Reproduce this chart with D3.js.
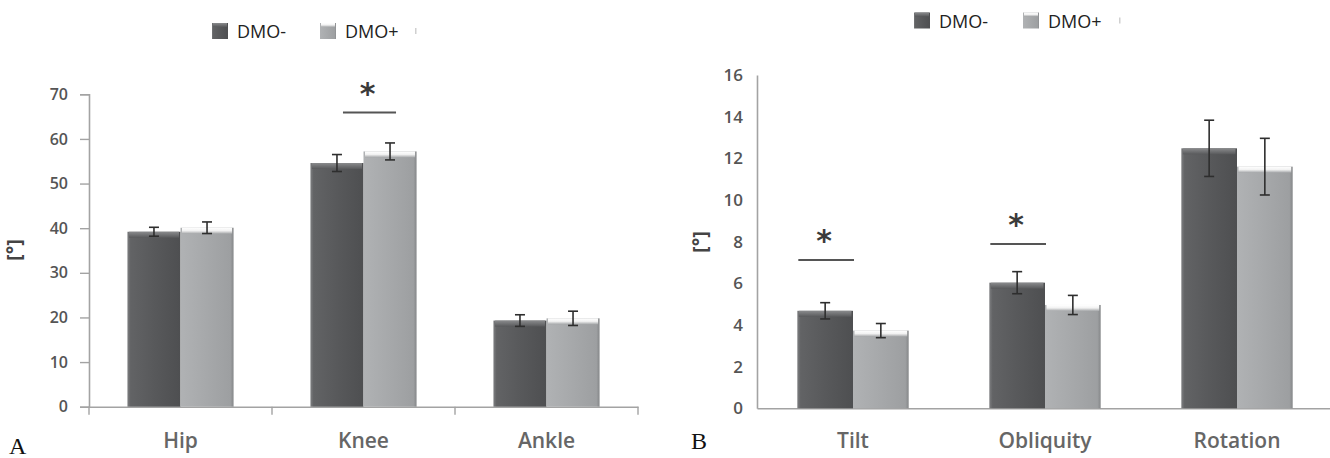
<!DOCTYPE html>
<html>
<head>
<meta charset="utf-8">
<script src="https://cdnjs.cloudflare.com/ajax/libs/d3/7.8.5/d3.min.js"></script>
<style>
  body { margin: 0; background: #fff; }
  svg { display: block; }
</style>
</head>
<body>
<script>
// series names
var groups = ["DMO-", "DMO+"]

// panel A: joint angles
var jointCats = ["Hip", "Knee", "Ankle"]
var jointMinus = [39.2, 54.6, 19.3]
var jointPlus = [40.1, 57.2, 19.8]
var jointMinusErr = [1.0, 1.9, 1.3]
var jointPlusErr = [1.3, 1.9, 1.6]
var jointTicks = [0, 10, 20, 30, 40, 50, 60, 70]
var jointSigCats = ["Knee"]
var jointSigLevels = [65.9]
var jointSigOver = ["pair"]

// panel B: pelvis angles
var pelvisCats = ["Tilt", "Obliquity", "Rotation"]
var pelvisMinus = [4.68, 6.03, 12.48]
var pelvisPlus = [3.73, 4.96, 11.6]
var pelvisMinusErr = [0.39, 0.53, 1.35]
var pelvisPlusErr = [0.34, 0.46, 1.36]
var pelvisTicks = [0, 2, 4, 6, 8, 10, 12, 14, 16]
var pelvisSigCats = ["Tilt", "Obliquity"]
var pelvisSigLevels = [7.12, 7.89]
var pelvisSigOver = ["DMO-", "DMO-"]

var w = 1330
var h = 458
var font = "'Open Sans', sans-serif"

var svg = d3.select("body")
    .append("svg")
    .attr("width", w)
    .attr("height", h)

// gradients for the bevelled bars
var defs = svg.append("defs")
function grad(id, stops, vertical) {
    var g = defs.append("linearGradient")
        .attr("id", id)
        .attr("x1", 0).attr("y1", 0)
        .attr("x2", vertical ? 0 : 1).attr("y2", vertical ? 1 : 0)
    stops.forEach(function(s) {
        g.append("stop").attr("offset", s[0]).attr("stop-color", s[1])
    })
}
grad("gMinus", [[0, "#7d7e80"], [0.06, "#626365"], [0.5, "#58595b"], [1, "#4e4f51"]])
grad("gPlus", [[0, "#b0b2b4"], [0.5, "#a6a8aa"], [0.94, "#9d9fa1"], [1, "#858789"]])
grad("gMinusTop", [[0, "#8a8b8d"], [1, "#58595b"]], true)
grad("gPlusTop", [[0, "#ffffff"], [0.5, "#f2f2f2"], [1, "#a6a8aa"]], true)

var barFill = { "DMO-": "url(#gMinus)", "DMO+": "url(#gPlus)" }
var topFill = { "DMO-": "url(#gMinusTop)", "DMO+": "url(#gPlusTop)" }

function drawPanel(p) {
    var g = svg.append("g")

    var yScale = d3.scaleLinear()
        .domain([0, p.ticks[p.ticks.length - 1]])
        .range([p.bottom, p.top])

    var xScale = d3.scaleBand()
        .domain(p.cats)
        .range([p.left, p.left + p.step * p.cats.length])
        .paddingInner(0.42)
        .paddingOuter(0.21)

    var xSub = d3.scaleBand()
        .domain(groups)
        .range([0, xScale.bandwidth()])

    var rows = p.cats.map(function(c, i) {
        return [
            { cat: c, key: "DMO-", v: p.minus[i], e: p.minusErr[i] },
            { cat: c, key: "DMO+", v: p.plus[i], e: p.plusErr[i] }
        ]
    })

    // axes
    var yAxis = d3.axisLeft(yScale)
        .tickValues(p.ticks)
        .tickSize(p.yTickSize)
        .tickPadding(p.yTickSize ? 12 : 14)
    var ga = g.append("g")
        .attr("transform", "translate(" + p.left + ",0)")
        .call(yAxis)
    ga.select(".domain").attr("stroke", "#a3a3a3").attr("stroke-width", 1.6)
    ga.selectAll(".tick line").attr("stroke", "#a3a3a3").attr("stroke-width", 1.4)
    ga.selectAll(".tick text")
        .attr("font-family", font)
        .attr("font-size", p.tickFont)
        .attr("font-weight", 600)
        .attr("fill", "#555")

    var xAxis = d3.axisBottom(xScale).tickFormat("").tickSize(0)
    var gx = g.append("g")
        .attr("transform", "translate(0," + p.bottom + ")")
        .call(xAxis)
    gx.select(".domain").attr("stroke", "#a3a3a3").attr("stroke-width", 1.6)
    gx.selectAll(".tick").remove()

    // boundary ticks on x axis
    if (p.xTicks) {
        var bounds = p.cats.map(function(c, i) { return p.left + p.step * i })
        bounds.push(p.left + p.step * p.cats.length)
        g.selectAll(".xb")
            .data(bounds)
            .enter()
            .append("line")
            .attr("x1", function(d) { return d }).attr("x2", function(d) { return d })
            .attr("y1", p.bottom).attr("y2", p.bottom + 8)
            .attr("stroke", "#a3a3a3").attr("stroke-width", 1.4)
    }

    // category labels
    g.selectAll(".cat")
        .data(p.cats)
        .enter()
        .append("text")
        .attr("x", function(d) { return xScale(d) + xScale.bandwidth() / 2 })
        .attr("y", 448)
        .attr("text-anchor", "middle")
        .attr("font-family", font)
        .attr("font-size", 21)
        .attr("font-weight", 600)
        .attr("fill", "#666")
        .text(function(d) { return d })

    // bars
    var cg = g.selectAll(".catg")
        .data(rows)
        .enter()
        .append("g")
        .attr("transform", function(d) { return "translate(" + xScale(d[0].cat) + ",0)" })

    var bars = cg.selectAll(".bar")
        .data(function(d) { return d })
        .enter()
        .append("g")

    bars.append("rect")
        .attr("x", function(d) { return xSub(d.key) })
        .attr("y", function(d) { return yScale(d.v) })
        .attr("width", xSub.bandwidth())
        .attr("height", function(d) { return p.bottom - yScale(d.v) })
        .attr("fill", function(d) { return barFill[d.key] })

    bars.append("rect")
        .attr("x", function(d) { return xSub(d.key) + 1.5 })
        .attr("y", function(d) { return yScale(d.v) })
        .attr("width", xSub.bandwidth() - 3)
        .attr("height", 6)
        .attr("fill", function(d) { return topFill[d.key] })

    // error bars
    var cap = 5
    var eb = bars.append("g")
        .attr("stroke", "#2e2e2e")
        .attr("stroke-width", 1.6)
    eb.append("line")
        .attr("x1", function(d) { return xSub(d.key) + xSub.bandwidth() / 2 })
        .attr("x2", function(d) { return xSub(d.key) + xSub.bandwidth() / 2 })
        .attr("y1", function(d) { return yScale(d.v + d.e) })
        .attr("y2", function(d) { return yScale(d.v - d.e) })
    eb.append("line")
        .attr("x1", function(d) { return xSub(d.key) + xSub.bandwidth() / 2 - cap })
        .attr("x2", function(d) { return xSub(d.key) + xSub.bandwidth() / 2 + cap })
        .attr("y1", function(d) { return yScale(d.v + d.e) })
        .attr("y2", function(d) { return yScale(d.v + d.e) })
    eb.append("line")
        .attr("x1", function(d) { return xSub(d.key) + xSub.bandwidth() / 2 - cap })
        .attr("x2", function(d) { return xSub(d.key) + xSub.bandwidth() / 2 + cap })
        .attr("y1", function(d) { return yScale(d.v - d.e) })
        .attr("y2", function(d) { return yScale(d.v - d.e) })

    // significance marks
    p.sigCats.forEach(function(c, i) {
        var cx, half = xSub.bandwidth() / 2
        if (p.sigOver[i] == "pair") cx = xScale(c) + xScale.bandwidth() / 2 + 6
        else cx = xScale(c) + xSub(p.sigOver[i]) + half + 1
        var ly = yScale(p.sigLevels[i])
        g.append("line")
            .attr("x1", cx - half).attr("x2", cx + half)
            .attr("y1", ly).attr("y2", ly)
            .attr("stroke", "#555").attr("stroke-width", 2)
        g.append("text")
            .attr("x", cx - 2)
            .attr("y", ly - 9)
            .attr("text-anchor", "middle")
            .attr("font-family", "'DejaVu Sans', sans-serif")
            .attr("font-size", 30)
            .attr("font-weight", "bold")
            .attr("fill", "#3a3a3a")
            .text("*")
    })

    // y label
    g.append("text")
        .attr("transform", "translate(" + p.yLabelX + "," + p.yLabelY + ") rotate(-90)")
        .attr("text-anchor", "middle")
        .attr("font-family", font)
        .attr("font-size", 20)
        .attr("font-weight", "bold")
        .attr("fill", "#444")
        .text("[°]")

    // legend
    var lg = g.append("g")
    groups.forEach(function(k, i) {
        var lx = p.legendX + i * p.legendGap
        lg.append("rect")
            .attr("x", lx).attr("y", p.legendY)
            .attr("width", 16).attr("height", 16)
            .attr("fill", barFill[k])
        lg.append("rect")
            .attr("x", lx + 1).attr("y", p.legendY)
            .attr("width", 14).attr("height", 4)
            .attr("fill", topFill[k])
        lg.append("text")
            .attr("x", lx + 25).attr("y", p.legendY + 15)
            .attr("font-family", font)
            .attr("font-size", 18)
            .attr("fill", "#222")
            .text(k)
    })
    lg.append("rect")
        .attr("x", p.legendX + p.legendGap * 2 - 13).attr("y", p.legendY + 5)
        .attr("width", 1.5).attr("height", 6)
        .attr("fill", "#d0d0d0")

    // panel letter
    g.append("text")
        .attr("x", p.letterX).attr("y", p.letterY)
        .attr("font-family", "'Liberation Serif', serif")
        .attr("font-size", 24)
        .attr("fill", "#111")
        .text(p.letter)
}

drawPanel({
    cats: jointCats, minus: jointMinus, plus: jointPlus,
    minusErr: jointMinusErr, plusErr: jointPlusErr, ticks: jointTicks,
    sigCats: jointSigCats, sigLevels: jointSigLevels, sigOver: jointSigOver,
    left: 89, step: 183, top: 94.3, bottom: 406.7,
    yTickSize: 9, xTicks: true, tickFont: 16,
    yLabelX: 21, yLabelY: 250,
    legendX: 212, legendY: 23, legendGap: 108,
    letter: "A", letterX: 9, letterY: 454
})

drawPanel({
    cats: pelvisCats, minus: pelvisMinus, plus: pelvisPlus,
    minusErr: pelvisMinusErr, plusErr: pelvisPlusErr, ticks: pelvisTicks,
    sigCats: pelvisSigCats, sigLevels: pelvisSigLevels, sigOver: pelvisSigOver,
    left: 757, step: 192, top: 75, bottom: 408.3,
    yTickSize: 0, xTicks: false, tickFont: 17,
    yLabelX: 707, yLabelY: 242,
    legendX: 914, legendY: 12.5, legendGap: 109,
    letter: "B", letterX: 691, letterY: 449
})
</script>
</body>
</html>
